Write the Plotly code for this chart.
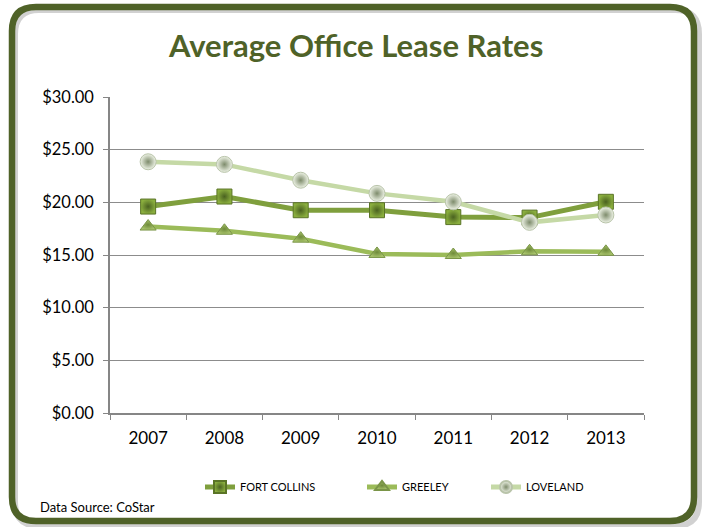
import plotly.graph_objects as go

# Average office lease rates ($ per sq ft) by market
years = ["2007", "2008", "2009", "2010", "2011", "2012", "2013"]
fort_collins = [19.6, 20.55, 19.25, 19.25, 18.6, 18.55, 20.05]
greeley = [17.7, 17.3, 16.55, 15.1, 15.0, 15.35, 15.3]
loveland = [23.85, 23.6, 22.1, 20.85, 20.05, 18.1, 18.8]

W, H = 703, 527
L, R, T, B = 110, 644, 97, 413  # plot area in pixels


def px(x):
    return (x - L) / (R - L)


def py(y):
    return (B - y) / (B - T)


def rounded_rect(x0, y0, x1, y1, r):
    a0, a1 = px(x0), px(x1)
    b0, b1 = py(y0), py(y1)
    rx = r / (R - L)
    ry = r / (B - T)
    return (
        f"M {a0 + rx},{b0} L {a1 - rx},{b0} Q {a1},{b0} {a1},{b0 - ry} "
        f"L {a1},{b1 + ry} Q {a1},{b1} {a1 - rx},{b1} "
        f"L {a0 + rx},{b1} Q {a0},{b1} {a0},{b1 + ry} "
        f"L {a0},{b0 - ry} Q {a0},{b0} {a0 + rx},{b0} Z"
    )


fig = go.Figure()

fig.add_trace(go.Scatter(
    x=years, y=fort_collins, name="FORT COLLINS", mode="lines+markers",
    legend="legend",
    line=dict(color="#7F9F3D", width=5),
    marker=dict(symbol="square", size=15, color="#8AAE3E",
                gradient=dict(type="radial", color="#4A6220"),
                line=dict(color="#5A7426", width=1)),
))
fig.add_trace(go.Scatter(
    x=years, y=greeley, name="GREELEY", mode="lines+markers",
    legend="legend2",
    line=dict(color="#9BBB59", width=4.5),
    marker=dict(symbol="triangle-up", size=14, color="#A9C46C",
                gradient=dict(type="radial", color="#6E8A3A"),
                line=dict(color="#7A9548", width=1)),
))
fig.add_trace(go.Scatter(
    x=years, y=loveland, name="LOVELAND", mode="lines+markers",
    legend="legend3",
    line=dict(color="#C5D9A6", width=4.5),
    marker=dict(symbol="circle", size=16, color="#EEF3E6",
                gradient=dict(type="radial", color="#7E8C6C"),
                line=dict(color="#B9C4AA", width=1)),
))

# Frame: soft shadow plus rounded olive border
fig.add_shape(type="path", xref="paper", yref="paper",
              path=rounded_rect(15, 10, 699, 526, 24),
              line=dict(color="rgba(0,0,0,0.18)", width=6), layer="below")
fig.add_shape(type="path", xref="paper", yref="paper",
              path=rounded_rect(12, 7, 694, 521, 24),
              line=dict(color="#4F6228", width=6.5), layer="below")

fig.add_annotation(text="<b>Average Office Lease Rates</b>", xref="paper", yref="paper",
                   x=px(355), y=py(45), showarrow=False,
                   font=dict(size=31, color="#4F6228", family="Lato"),
                   xanchor="center", yanchor="middle")
fig.add_annotation(text="Data Source: CoStar", xref="paper", yref="paper",
                   x=px(38), y=py(507), showarrow=False,
                   font=dict(size=13, color="#000000", family="Lato"),
                   xanchor="left", yanchor="middle")


def legend_at(xpix):
    return dict(orientation="h", x=px(xpix), xanchor="left", y=py(487), yanchor="middle",
                font=dict(size=11, family="Lato"), itemsizing="constant",
                bgcolor="rgba(0,0,0,0)")


fig.update_layout(
    width=W, height=H,
    margin=dict(l=L, r=W - R, t=T, b=H - B),
    paper_bgcolor="white", plot_bgcolor="white",
    font=dict(family="Lato", color="#000000"),
    showlegend=True,
    legend=legend_at(200),
    legend2=legend_at(362),
    legend3=legend_at(486),
    xaxis=dict(type="category", tickson="boundaries", ticks="outside", ticklen=5,
               tickcolor="#868686", showline=True, linecolor="#868686", linewidth=1.5,
               showgrid=False, tickfont=dict(size=17), range=[-0.5, 6.5],
               ticklabelstandoff=9),
    yaxis=dict(range=[0, 30], tickvals=[0, 5, 10, 15, 20, 25, 30], tickformat="$.2f",
               ticks="outside", ticklen=5, tickcolor="#868686", showline=True,
               linecolor="#868686", linewidth=1.5, showgrid=True, gridcolor="#8C8C8C",
               gridwidth=1, zeroline=False, tickfont=dict(size=16.5),
               ticklabelstandoff=6),
)

fig.write_html("out.html")
